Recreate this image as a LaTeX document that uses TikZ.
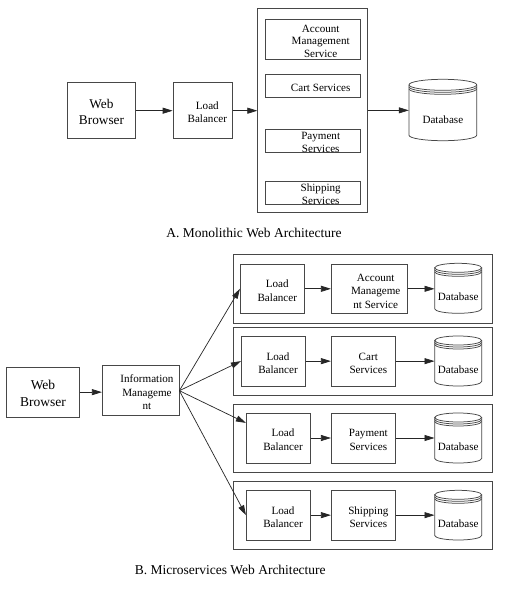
\documentclass[tikz,border=0pt]{standalone}
\usepackage{fontspec}
\setmainfont{Liberation Serif}
\usetikzlibrary{arrows.meta,calc}
\newcommand\stk[2]{\hspace*{#1}\smash{\raisebox{\dimexpr-0.25em-3pt\relax}{\begin{tabular}{@{}c@{}}#2\end{tabular}}}}
\newcommand\frontarc[4]{(#1,{#3}) .. controls (#1,{#3+0.5523*#4}) and ({(#1+#2)/2-0.5523*(#2-#1)/2},{#3+#4}) .. ({(#1+#2)/2},{#3+#4}) .. controls ({(#1+#2)/2+0.5523*(#2-#1)/2},{#3+#4}) and (#2,{#3+0.5523*#4}) .. (#2,{#3})}
% name, x1, x2, top, bottom, ry, text
\newcommand\dbnode[7]{%
  \node[dbbody, minimum width={#3-#2}, minimum height={#5-#4-2*#6-4}] (#1) at ({(#2+#3)/2},{(#4+2*#6+4+#5)/2}) {#7};
  \draw[boxline] ({(#2+#3)/2},{#4+#6}) ellipse [x radius={(#3-#2)/2}, y radius={#6}];
  \draw[boxline] \frontarc{#2}{#3}{#4+#6+2}{#6};
  \draw[boxline] \frontarc{#2}{#3}{#4+#6+4}{#6};
  \draw[boxline] (#2,{#4+#6}) -- \frontarc{#2}{#3}{#5-#6}{#6} -- (#3,{#4+#6});
}
\tikzset{
  boxline/.style={draw=black!72, line width=0.75pt},
  box/.style={boxline, rectangle, inner sep=0pt, font=\fontsize{11.1}{13}\selectfont},
  bigbox/.style={box, font=\fontsize{13.3}{16.5}\selectfont},
  abox/.style={box, minimum width=95, font=\fontsize{11.1}{12.8}\selectfont},
  bbox/.style={box, font=\fontsize{11.1}{13.5}\selectfont},
  cont/.style={boxline, rectangle, inner sep=0pt, minimum width=259},
  dbbody/.style={inner sep=0pt, font=\fontsize{11.1}{13}\selectfont},
  arr/.style={draw=black!85, line width=0.7pt, -{Triangle[length=10pt,width=6pt]}},
  caption/.style={inner sep=0pt, font=\fontsize{13.5}{16}\selectfont}
}
\begin{document}
\begin{tikzpicture}[x=1pt,y=-1pt]
\fill[white] (0,0) rectangle (509,589);
\useasboundingbox (0,0) rectangle (509,589);
% ---------- A ----------
\node[bigbox, minimum width=67.6, minimum height=56] (wbA) at (101.5,110.7) {\stk{0pt}{Web\\Browser}};
\node[box, minimum width=59.3, minimum height=56] (lbA) at (202.7,110.7) {\stk{9.3pt}{Load\\Balancer}};
\node[boxline, rectangle, inner sep=0pt, minimum width=109.6, minimum height=203.3] (mono) at (312.5,110.35) {};
\node[abox, minimum height=40.7] (accA) at (313.2,39.35) {\stk{15pt}{Account\\Management\\Service}};
\node[abox, minimum height=22.6] (cartA) at (313.2,86) {\stk{15pt}{Cart Services}};
\node[abox, minimum height=23] (payA) at (313.2,140.8) {\stk{15pt}{Payment\\Services}};
\node[abox, minimum height=22.7] (shipA) at (313.2,192.65) {\stk{15pt}{Shipping\\Services}};
\dbnode{dbA}{409}{476.7}{79.3}{140.7}{5.5}{\stk{0pt}{Database}}
\draw[arr] (wbA.east) -- (wbA.east -| lbA.west);
\draw[arr] (lbA.east) -- (lbA.east -| mono.west);
\draw[arr] (mono.east) -- (mono.east -| dbA.west);
\node[caption] (capA) at (254,232.7) {A. Monolithic Web Architecture};
% ---------- B ----------
\node[bigbox, minimum width=72.6, minimum height=49.7, font=\fontsize{13.5}{17}\selectfont] (wbB) at (43,392.15) {\stk{0pt}{Web\\Browser}};
\node[bbox, minimum width=76.7, minimum height=50] (im) at (140.65,390.7) {\stk{12.6pt}{Information\\Manageme\\nt}};
\node[cont, minimum height=68.3] (c1) at (362.8,288.85) {};
\node[cont, minimum height=67.3] (c2) at (362.8,361.35) {};
\node[cont, minimum height=68] (c3) at (362.8,438.3) {};
\node[cont, minimum height=68] (c4) at (362.8,515.3) {};
% row 1
\node[bbox, minimum width=64, minimum height=49] (lb1) at (272.3,288.8) {\stk{10pt}{Load\\Balancer}};
\node[bbox, minimum width=76, minimum height=49] (am1) at (369.3,288.8) {\stk{12.8pt}{Account\\Manageme\\nt Service}};
\dbnode{db1}{434.7}{481.7}{263.3}{313.3}{4.5}{\stk{0pt}{Database}}
% row 2
\node[bbox, minimum width=64, minimum height=49.7] (lb2) at (273.3,361.15) {\stk{9.4pt}{Load\\Balancer}};
\node[bbox, minimum width=64, minimum height=49.7] (ct2) at (363.3,361.15) {\stk{10pt}{Cart\\Services}};
\dbnode{db2}{434.7}{481.7}{336}{386}{4.5}{\stk{0pt}{Database}}
% row 3
\node[bbox, minimum width=64, minimum height=50] (lb3) at (278.3,438) {\stk{9.4pt}{Load\\Balancer}};
\node[bbox, minimum width=64, minimum height=50] (py3) at (363.3,438) {\stk{10pt}{Payment\\Services}};
\dbnode{db3}{434.7}{481.7}{413}{463}{4.5}{\stk{0pt}{Database}}
% row 4
\node[bbox, minimum width=64, minimum height=49.7] (lb4) at (278.3,515.15) {\stk{9.4pt}{Load\\Balancer}};
\node[bbox, minimum width=64, minimum height=49.7] (sh4) at (363.3,515.15) {\stk{10pt}{Shipping\\Services}};
\dbnode{db4}{434.7}{481.7}{490.3}{540}{4.5}{\stk{0pt}{Database}}
% connectors
\draw[arr] (wbB.east) -- (wbB.east -| im.west);
\draw[arr] (im.east) -- (lb1.west);
\draw[arr] (im.east) -- (lb2.west);
\draw[arr] (im.east) -- (lb3.155);
\draw[arr] (im.east) -- (lb4.west);
\draw[arr] (lb1) -- (am1);
\draw[arr] (am1.east) -- (am1.east -| db1.west);
\draw[arr] (lb2) -- (ct2);
\draw[arr] (ct2.east) -- (ct2.east -| db2.west);
\draw[arr] (lb3) -- (py3);
\draw[arr] (py3.east) -- (py3.east -| db3.west);
\draw[arr] (lb4) -- (sh4);
\draw[arr] (sh4.east) -- (sh4.east -| db4.west);
\node[caption] (capB) at (230.3,570) {B. Microservices Web Architecture};
\end{tikzpicture}
\end{document}
